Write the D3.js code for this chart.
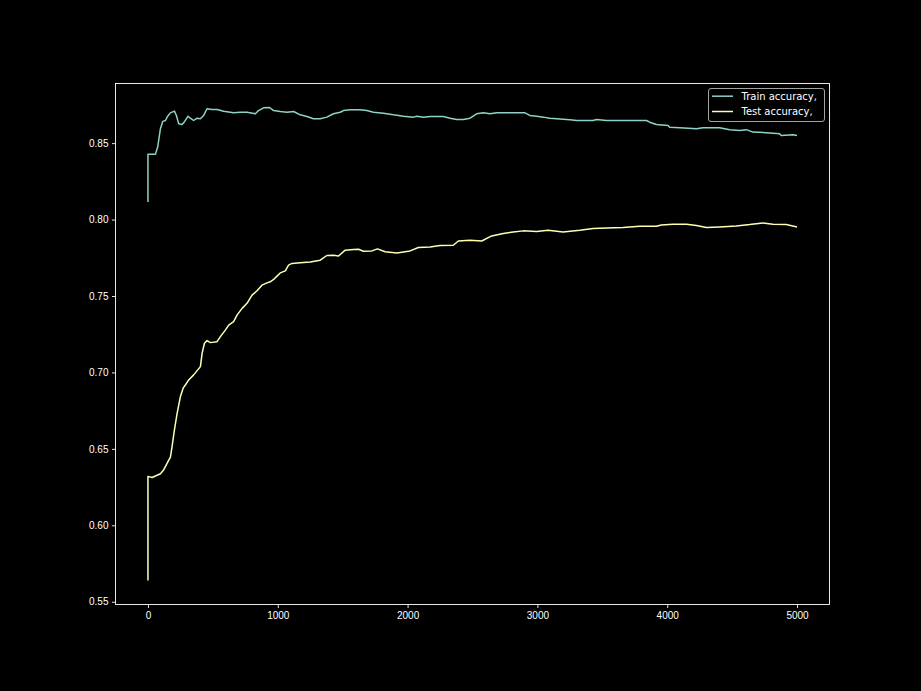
<!DOCTYPE html>
<html>
<head>
<meta charset="utf-8">
<script src="https://cdn.jsdelivr.net/npm/d3@7"></script>
<style>
  html, body { margin: 0; padding: 0; background: #000; }
  svg { display: block; }
</style>
</head>
<body>
<svg id="chart"></svg>
<script>
// values
const trainIter = [0, 0, 58, 75, 96, 114, 135, 152, 173, 204, 219, 237, 263, 283, 309, 327, 352, 378, 404, 429, 455, 494, 532, 583, 660, 712, 763, 827, 852, 891, 937, 968, 1019, 1071, 1122, 1173, 1225, 1275, 1327, 1378, 1429, 1481, 1506, 1558, 1635, 1686, 1737, 1814, 1891, 1968, 2045, 2071, 2122, 2173, 2275, 2327, 2378, 2429, 2481, 2532, 2583, 2635, 2686, 2788, 2904, 2942, 2994, 3045, 3096, 3148, 3250, 3302, 3429, 3455, 3532, 3686, 3840, 3865, 3917, 4006, 4019, 4096, 4225, 4275, 4404, 4481, 4558, 4609, 4660, 4763, 4865, 4878, 4968, 5000];
const trainAcc = [0.8115, 0.8428, 0.8428, 0.8474, 0.8594, 0.8642, 0.8648, 0.8676, 0.8698, 0.8709, 0.8681, 0.8627, 0.8622, 0.8642, 0.8676, 0.8663, 0.8648, 0.8663, 0.8659, 0.8681, 0.8725, 0.8720, 0.8720, 0.8709, 0.8698, 0.8702, 0.8702, 0.8692, 0.8713, 0.8731, 0.8733, 0.8713, 0.8707, 0.8702, 0.8707, 0.8685, 0.8674, 0.8659, 0.8659, 0.8670, 0.8692, 0.8702, 0.8713, 0.8718, 0.8718, 0.8713, 0.8702, 0.8696, 0.8685, 0.8676, 0.8670, 0.8676, 0.8670, 0.8674, 0.8674, 0.8663, 0.8655, 0.8655, 0.8663, 0.8692, 0.8698, 0.8692, 0.8698, 0.8698, 0.8698, 0.8681, 0.8676, 0.8670, 0.8663, 0.8659, 0.8653, 0.8648, 0.8648, 0.8655, 0.8648, 0.8648, 0.8648, 0.8637, 0.8622, 0.8616, 0.8604, 0.8601, 0.8594, 0.8601, 0.8601, 0.8588, 0.8583, 0.8588, 0.8572, 0.8568, 0.8561, 0.8550, 0.8555, 0.8550];

const testIter = [0, 0, 32, 96, 122, 148, 173, 186, 204, 225, 250, 271, 288, 314, 352, 404, 417, 435, 455, 481, 532, 558, 596, 622, 660, 686, 725, 763, 802, 840, 878, 917, 942, 968, 994, 1019, 1058, 1083, 1109, 1173, 1250, 1327, 1378, 1429, 1468, 1519, 1583, 1622, 1660, 1725, 1768, 1827, 1917, 2019, 2083, 2173, 2250, 2352, 2391, 2481, 2571, 2648, 2737, 2814, 2891, 2994, 3083, 3198, 3327, 3429, 3532, 3660, 3788, 3917, 3955, 4045, 4148, 4225, 4302, 4404, 4532, 4635, 4737, 4814, 4917, 5000];
const testAcc = [0.5639, 0.6320, 0.6313, 0.6337, 0.6364, 0.6407, 0.6446, 0.6516, 0.6625, 0.6734, 0.6842, 0.6897, 0.6918, 0.6951, 0.6984, 0.7038, 0.7125, 0.7191, 0.7208, 0.7195, 0.7201, 0.7234, 0.7277, 0.7310, 0.7332, 0.7375, 0.7419, 0.7452, 0.7506, 0.7534, 0.7571, 0.7586, 0.7593, 0.7608, 0.7630, 0.7651, 0.7664, 0.7702, 0.7713, 0.7718, 0.7723, 0.7734, 0.7765, 0.7767, 0.7762, 0.7800, 0.7804, 0.7806, 0.7793, 0.7795, 0.7808, 0.7789, 0.7782, 0.7795, 0.7817, 0.7821, 0.7830, 0.7832, 0.7860, 0.7865, 0.7860, 0.7893, 0.7909, 0.7919, 0.7926, 0.7922, 0.7930, 0.7919, 0.7930, 0.7941, 0.7945, 0.7948, 0.7956, 0.7956, 0.7965, 0.7969, 0.7969, 0.7961, 0.7948, 0.7952, 0.7958, 0.7967, 0.7978, 0.7969, 0.7967, 0.7952];

const xTicks = [0, 1000, 2000, 3000, 4000, 5000];
const yTicks = [0.55, 0.60, 0.65, 0.70, 0.75, 0.80, 0.85];
const seriesNames = ['Train accuracy,', 'Test accuracy,'];
const seriesColors = ['#8dd3c7', '#feffb3'];

const W = 921, H = 691;
const margin = { top: 83.5, right: 91.5, bottom: 86.5, left: 115.5 };
const iw = W - margin.left - margin.right;
const ih = H - margin.top - margin.bottom;

const svg = d3.select('#chart')
  .attr('width', W)
  .attr('height', H)
  .style('font-family', 'DejaVu Sans, sans-serif');

svg.append('rect').attr('width', W).attr('height', H).attr('fill', '#000');

const g = svg.append('g').attr('transform', `translate(${margin.left},${margin.top})`);

// matplotlib-like 5% padding
const x = d3.scaleLinear().domain([-250, 5250]).range([0, iw]);
const y = d3.scaleLinear().domain([0.5482, 0.889]).range([ih, 0]);

const xAxis = g.append('g')
  .attr('transform', `translate(0,${ih})`)
  .call(d3.axisBottom(x).tickValues(xTicks).tickSize(3.5).tickPadding(3.5).tickFormat(d3.format('d')));
const yAxis = g.append('g')
  .call(d3.axisLeft(y).tickValues(yTicks).tickSize(3.5).tickPadding(3.5).tickFormat(d3.format('.2f')));

[xAxis, yAxis].forEach(ax => {
  ax.select('.domain').remove();
  ax.selectAll('.tick line').attr('stroke', '#fff').attr('stroke-width', 0.9);
  ax.selectAll('.tick text').attr('fill', '#fff').style('font-size', '10px');
});

g.append('rect')
  .attr('width', iw).attr('height', ih)
  .attr('fill', 'none').attr('stroke', '#fff').attr('stroke-width', 0.9);

const line = d3.line().x(d => x(d[0])).y(d => y(d[1]));
const series = [
  d3.zip(trainIter, trainAcc),
  d3.zip(testIter, testAcc)
];

g.append('g')
  .selectAll('path')
  .data(series)
  .join('path')
  .attr('fill', 'none')
  .attr('stroke', (d, i) => seriesColors[i])
  .attr('stroke-width', 1.5)
  .attr('stroke-linejoin', 'round')
  .attr('d', line);

// legend
const lg = g.append('g').attr('transform', `translate(${iw - 121},5)`);
lg.append('rect')
  .attr('width', 116).attr('height', 33).attr('rx', 2.5)
  .attr('fill', '#000').attr('fill-opacity', 0.8)
  .attr('stroke', '#cccccc').attr('stroke-width', 0.8);

const item = lg.selectAll('.item')
  .data(seriesNames)
  .join('g')
  .attr('class', 'item')
  .attr('transform', (d, i) => `translate(0,${7.7 + i * 15.3})`);
item.append('line')
  .attr('x1', 3.5).attr('x2', 24.5)
  .attr('stroke', (d, i) => seriesColors[i]).attr('stroke-width', 1.5);
item.append('text')
  .attr('x', 33).attr('dy', '0.35em')
  .attr('fill', '#fff').style('font-size', '10px')
  .text(d => d);
</script>
</body>
</html>
